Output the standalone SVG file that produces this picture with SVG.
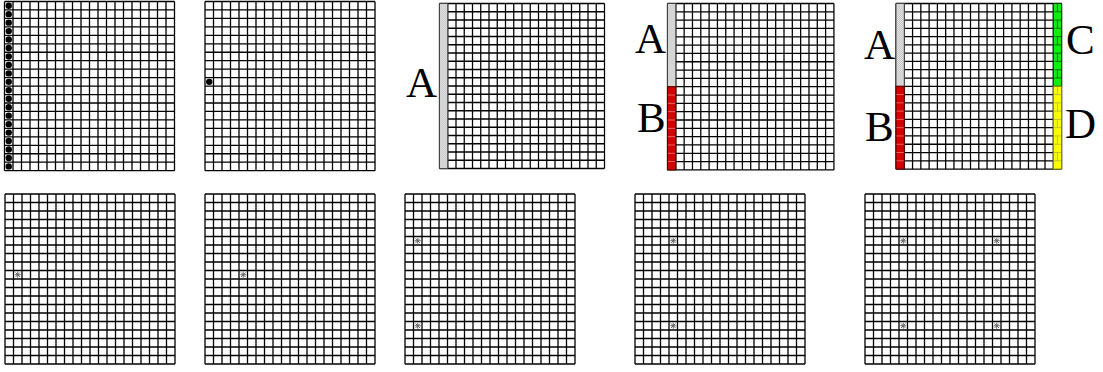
<svg xmlns="http://www.w3.org/2000/svg" width="1103" height="372" viewBox="0 0 1103 372">
<style>
.lbl{font-family:"Liberation Serif","Times New Roman",serif;font-size:43px;fill:#000}
.dot{fill:#000}
.bar{stroke:#444;stroke-width:1}
</style>
<defs>
<path id="grid" fill="none" stroke="#000" stroke-width="1.3" d="M0 0V170M8.5 0V170M17 0V170M25.5 0V170M34 0V170M42.5 0V170M51 0V170M59.5 0V170M68 0V170M76.5 0V170M85 0V170M93.5 0V170M102 0V170M110.5 0V170M119 0V170M127.5 0V170M136 0V170M144.5 0V170M153 0V170M161.5 0V170M170 0V170M0 0H170M0 8.5H170M0 17H170M0 25.5H170M0 34H170M0 42.5H170M0 51H170M0 59.5H170M0 68H170M0 76.5H170M0 85H170M0 93.5H170M0 102H170M0 110.5H170M0 119H170M0 127.5H170M0 136H170M0 144.5H170M0 153H170M0 161.5H170M0 170H170"/>
<g id="star" fill="none" stroke="#666" stroke-width="1"><path d="M-3 0H3M0 -3V3M-2.2 -2.2L2.2 2.2M-2.2 2.2L2.2 -2.2"/></g>
<pattern id="pA" width="2" height="2" patternUnits="userSpaceOnUse"><rect width="2" height="2" fill="#f2f2f2"/><rect width="1" height="1" fill="#b8b8b8"/><rect x="1" y="1" width="1" height="1" fill="#b8b8b8"/></pattern>
<path id="rowsA" d="M0 8.5H8.5M0 17H8.5M0 25.5H8.5M0 34H8.5M0 42.5H8.5M0 51H8.5M0 59.5H8.5M0 68H8.5M0 76.5H8.5"/>
<path id="rowsB" d="M0 93.5H8.5M0 102H8.5M0 110.5H8.5M0 119H8.5M0 127.5H8.5M0 136H8.5M0 144.5H8.5M0 153H8.5M0 161.5H8.5"/>
</defs>

<g id="top1" transform="translate(4.5,1.5) scale(1,0.995)">
<use href="#grid"/>
<g class="dot">
<circle cx="4.25" cy="4.25" r="3.2"/><circle cx="4.25" cy="12.75" r="3.2"/><circle cx="4.25" cy="21.25" r="3.2"/><circle cx="4.25" cy="29.75" r="3.2"/><circle cx="4.25" cy="38.25" r="3.2"/><circle cx="4.25" cy="46.75" r="3.2"/><circle cx="4.25" cy="55.25" r="3.2"/><circle cx="4.25" cy="63.75" r="3.2"/><circle cx="4.25" cy="72.25" r="3.2"/><circle cx="4.25" cy="80.75" r="3.2"/><circle cx="4.25" cy="89.25" r="3.2"/><circle cx="4.25" cy="97.75" r="3.2"/><circle cx="4.25" cy="106.25" r="3.2"/><circle cx="4.25" cy="114.75" r="3.2"/><circle cx="4.25" cy="123.25" r="3.2"/><circle cx="4.25" cy="131.75" r="3.2"/><circle cx="4.25" cy="140.25" r="3.2"/><circle cx="4.25" cy="148.75" r="3.2"/><circle cx="4.25" cy="157.25" r="3.2"/><circle cx="4.25" cy="165.75" r="3.2"/>
</g>
</g>

<g id="top2" transform="translate(205,1.5) scale(1,0.995)">
<use href="#grid"/>
<circle class="dot" cx="4.25" cy="80.75" r="3.2"/>
</g>

<g id="top3">
<g transform="translate(439.5,3.5) scale(0.9706)">
<use href="#grid"/>
<rect class="bar" x="0" y="0" width="8.5" height="170" fill="url(#pA)"/>
</g>
<text class="lbl" x="406" y="97">A</text>
</g>

<g id="top4">
<g transform="translate(667.5,3.5) scale(0.979)">
<use href="#grid"/>
<rect class="bar" x="0" y="0" width="8.5" height="85" fill="url(#pA)"/>
<rect x="0" y="85" width="8.5" height="85" fill="#d40000"/>
<use href="#rowsB" stroke="#f08080" stroke-width="0.8"/>
<rect x="0" y="85" width="8.5" height="85" fill="none" stroke="#500" stroke-width="1"/>
</g>
<text class="lbl" x="635" y="53">A</text>
<text class="lbl" x="637" y="132">B</text>
</g>

<g id="top5">
<g transform="translate(896,3.5) scale(0.974)">
<use href="#grid"/>
<rect class="bar" x="0" y="0" width="8.5" height="85" fill="url(#pA)"/>
<rect x="0" y="85" width="8.5" height="85" fill="#d40000"/>
<use href="#rowsB" stroke="#f08080" stroke-width="0.8"/>
<rect x="0" y="85" width="8.5" height="85" fill="none" stroke="#500" stroke-width="1"/>
<rect x="161.5" y="0" width="8.5" height="85" fill="#10ee10"/>
<use href="#rowsA" x="161.5" stroke="#006000" stroke-width="0.9"/>
<path d="M165.75 0V8.5M165.75 17V25.5M165.75 34V42.5M165.75 51V59.5M165.75 68V76.5" stroke="#006000" stroke-width="0.9"/>
<rect x="161.5" y="0" width="8.5" height="85" fill="none" stroke="#004000" stroke-width="1"/>
<rect x="161.5" y="85" width="8.5" height="85" fill="#ffff00"/>
<use href="#rowsB" x="161.5" stroke="#b0b050" stroke-width="0.8"/>
<path d="M165.75 85V93.5M165.75 102V110.5M165.75 119V127.5M165.75 136V144.5M165.75 153V161.5" stroke="#b0b050" stroke-width="0.8"/>
<rect x="161.5" y="85" width="8.5" height="85" fill="none" stroke="#808020" stroke-width="1"/>
</g>
<text class="lbl" x="864" y="59">A</text>
<text class="lbl" x="865" y="141">B</text>
<text class="lbl" x="1066" y="54">C</text>
<text class="lbl" x="1065" y="138">D</text>
</g>

<g id="bottom1" transform="translate(5,194)">
<use href="#grid"/>
<use href="#star" x="12.75" y="80.75"/>
</g>

<g id="bottom2" transform="translate(205,194)">
<use href="#grid"/>
<use href="#star" x="38.25" y="80.75"/>
</g>

<g id="bottom3" transform="translate(405,194)">
<use href="#grid"/>
<use href="#star" x="12.75" y="46.75"/>
<use href="#star" x="12.75" y="131.75"/>
</g>

<g id="bottom4" transform="translate(635,194)">
<use href="#grid"/>
<use href="#star" x="38.25" y="46.75"/>
<use href="#star" x="38.25" y="131.75"/>
</g>

<g id="bottom5" transform="translate(865,194)">
<use href="#grid"/>
<use href="#star" x="38.25" y="46.75"/>
<use href="#star" x="131.75" y="46.75"/>
<use href="#star" x="38.25" y="131.75"/>
<use href="#star" x="131.75" y="131.75"/>
</g>

<g id="connectors"/>
</svg>
